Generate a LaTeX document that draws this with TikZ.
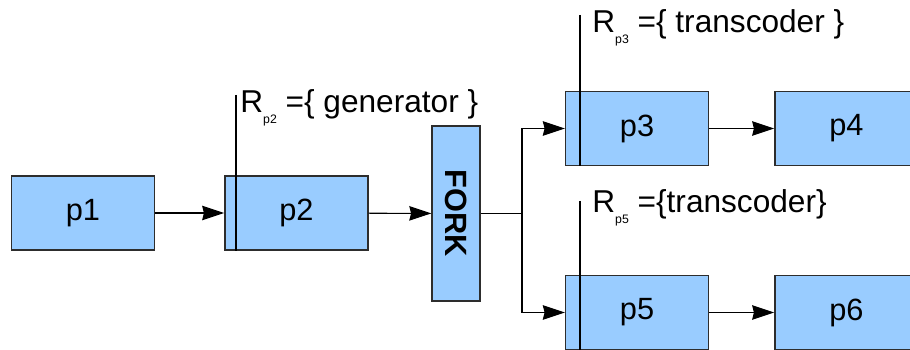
\documentclass[tikz,border=0pt]{standalone}
\usepackage{fontspec}
\setmainfont{Liberation Sans}
\usepackage{tikz}
\usetikzlibrary{arrows.meta}
\usetikzlibrary{positioning}
\definecolor{procblue}{RGB}{153, 204, 255}
\definecolor{procline}{RGB}{45, 45, 45}
\newcommand{\psub}[1]{\raisebox{-0.65ex}{\fontsize{7}{8}\selectfont #1}}
\tikzset{
  proc/.style={draw=procline, fill=procblue, line width=0.8pt, minimum width=2.86cm,
               minimum height=1.48cm, inner sep=0pt, font=\fontsize{17.5}{20}\selectfont},
  forkbox/.style={proc, minimum width=0.96cm, minimum height=3.5cm, font=\fontsize{17.5}{20}\selectfont\bfseries},
  flow/.style={-{Stealth[length=4.4mm, width=2.9mm, inset=0.35mm]}, line width=0.6pt},
  res/.style={anchor=base west, inner sep=0pt, font=\fontsize{18}{20}\selectfont},
  resline/.style={line width=0.6pt}
}

\begin{document}
\begin{tikzpicture}[x=0.02cm, y=-0.02cm]
            \useasboundingbox (0,0) rectangle (910,350);
            \clip (0,0) rectangle (910,350);
            \node[proc] (p1) at ( 83.0, 213.0) {p1};
            \node[proc, right=1.38cm of p1] (p2) {p2};
            \node[forkbox] (fork) at (456.0, 213.5) {\rotatebox{-90}{FORK}};
            \node[proc] (p3) at (637.0, 128.5) {p3};
            \node[proc, right=1.3cm of p3] (p4) {p4};
            \node[proc] (p5) at (637.0, 312.5) {p5};
            \node[proc, right=1.3cm of p5] (p6) {p6};
            \coordinate (split) at (522.0, 213.5);
            \coordinate (r2top) at (236.0,  95.0);
            \coordinate (r3top) at (580.0,  15.0);
            \coordinate (r5top) at (580.0, 201.0);
            \draw[flow] (p1) -- (p2);
            \draw[flow] (p2) -- (fork);
            \draw[resline] (fork.east) -- (split);
            \draw[flow] (split) |- (p3.west);
            \draw[flow] (split) |- (p5.west);
            \draw[flow] (p3) -- (p4);
            \draw[flow] (p5) -- (p6);
            \draw[resline] (r2top) -- (r2top |- p2.south);
            \draw[resline] (r3top) -- (r3top |- p3.south);
            \draw[resline] (r5top) -- (r5top |- p5.south);
            \node[res] (r2) at (240.0, 113.0) {R\psub{p2} =\{ generator \}};
            \node[res] (r3) at (592.0,  33.0) {R\psub{p3} =\{ transcoder \}};
            \node[res] (r5) at (592.0, 213.0) {R\psub{p5} =\{transcoder\}};
\end{tikzpicture}
\end{document}
